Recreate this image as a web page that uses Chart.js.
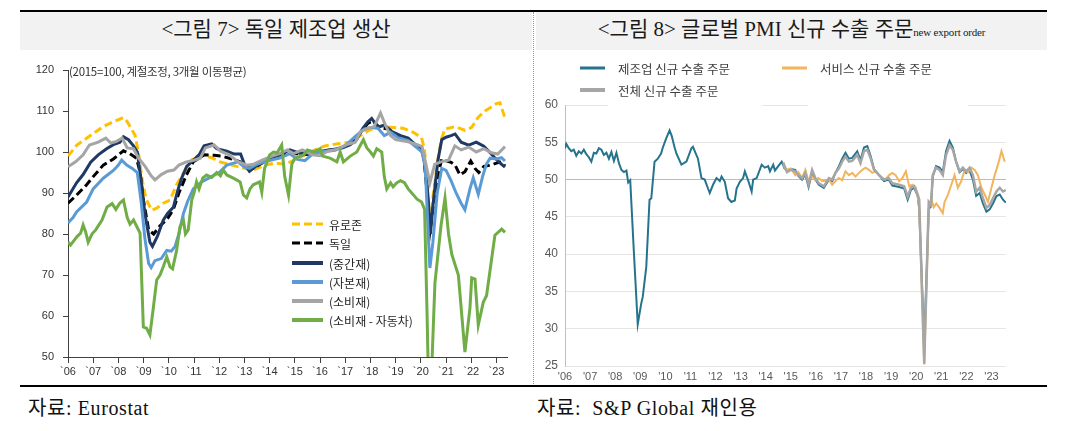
<!DOCTYPE html>
<html>
<head>
<meta charset="utf-8">
<script src="https://cdn.jsdelivr.net/npm/chart.js@4.4.0/dist/chart.umd.min.js"></script>
<style>
  html, body { margin: 0; padding: 0; background: #fff; }
  body { width: 1070px; height: 431px; position: relative; overflow: hidden; }
  .rule { position: absolute; left: 20px; width: 1027px; height: 2px; background: #000; }
  .band { position: absolute; top: 12px; height: 38px; background: #f2f2f2; color: #1a1a1a;
          font-family: "Liberation Serif", "Noto Sans CJK KR", serif; font-size: 21px;
          line-height: 34px; text-align: center; white-space: nowrap; }
  .band small { font-size: 11px; letter-spacing: -0.2px; }
  .foot { position: absolute; top: 392px; font-family: "Liberation Serif", "Noto Sans CJK KR", serif;
          font-size: 20px; color: #111; white-space: nowrap; letter-spacing: 0.6px; }
  .note { position: absolute; left: 69px; top: 63px; font-family: "Noto Sans CJK KR", sans-serif;
          font-size: 11.5px; color: #333; white-space: nowrap; letter-spacing: -0.3px; }
  canvas { position: absolute; top: 0; }
</style>
</head>
<body>
<div class="rule" style="top:10px"></div>
<div class="band" style="left:20px;width:512px">&lt;그림 7&gt; 독일 제조업 생산</div>
<div class="band" style="left:536px;width:511px">&lt;그림 8&gt; 글로벌 PMI 신규 수출 주문<small>new export order</small></div>
<div style="position:absolute;left:533px;top:12px;height:374px;border-left:1px dotted #999"></div>
<div class="rule" style="top:385px"></div>
<div class="foot" style="left:28px">자료: Eurostat</div>
<div class="foot" style="left:537px">자료:&nbsp; S&amp;P Global 재인용</div>

<canvas id="left" width="535" height="431" style="left:0"></canvas>
<canvas id="right" width="535" height="431" style="left:535px"></canvas>
<div class="note">(2015=100, 계절조정, 3개월 이동평균)</div>

<script>
// ---- data: [year, value] ----
const yearTicks = [2006,2007,2008,2009,2010,2011,2012,2013,2014,2015,2016,2017,2018,2019,2020,2021,2022,2023];

// 그림 7
const euroArea = [[2006.0,99],[2006.35,101.7],[2006.75,103.4],[2007.0,104.5],[2007.4,106.2],[2007.8,107.4],[2008.2,108.4],[2008.35,107.4],[2008.66,104.1],[2008.79,100],[2008.95,93],[2009.1,88.5],[2009.32,85.8],[2009.52,86.3],[2009.78,87.5],[2010.05,88.3],[2010.31,92],[2010.6,95],[2010.97,98.5],[2011.3,99.3],[2011.7,98.6],[2012.03,97.6],[2012.5,96.8],[2013.0,96],[2013.35,95.6],[2013.8,96.8],[2014.2,97.3],[2014.6,97],[2014.9,97.8],[2015.3,99],[2015.8,100.5],[2016.2,101.5],[2016.7,102],[2017.2,102.4],[2017.6,104],[2018.0,105.5],[2018.4,106.3],[2018.9,106],[2019.3,105.8],[2019.7,104.8],[2020.03,103.5],[2020.15,100.5],[2020.25,92],[2020.36,81.5],[2020.5,90],[2020.7,99],[2020.83,103.4],[2020.96,105.6],[2021.36,106.2],[2021.75,105.3],[2022.02,106],[2022.28,108.5],[2022.55,110],[2022.8,111],[2023.0,111.8],[2023.14,112],[2023.34,108.3]];
const germany = [[2006.0,87.5],[2006.34,89.5],[2006.74,92],[2007.0,94],[2007.4,96.8],[2007.8,98.3],[2008.06,99.6],[2008.2,100.3],[2008.45,99.6],[2008.72,98.5],[2008.86,95],[2009.0,88],[2009.2,81],[2009.4,80],[2009.65,82],[2009.92,83.5],[2010.18,86],[2010.4,90],[2010.7,94.4],[2010.97,97.6],[2011.4,99.3],[2011.8,99.2],[2012.1,99],[2012.5,98.3],[2012.83,97.6],[2013.1,96.2],[2013.35,96],[2013.7,97.3],[2014.1,98.6],[2014.5,99.5],[2015.0,99.6],[2015.5,99.4],[2016.0,100.2],[2016.6,100.6],[2017.1,101.6],[2017.5,104],[2017.9,107],[2018.1,107.6],[2018.35,106],[2018.7,105.6],[2019.1,104],[2019.5,102.8],[2019.9,101.5],[2020.1,100],[2020.25,90],[2020.36,80.6],[2020.5,87],[2020.7,95],[2020.83,98.2],[2021.2,97.5],[2021.36,96.8],[2021.55,94.4],[2021.75,95.2],[2021.98,97.8],[2022.15,96],[2022.3,95],[2022.5,96.5],[2022.8,96.8],[2023.0,97.3],[2023.2,97.6],[2023.34,96.6]];
const intermediate = [[2006.0,89],[2006.34,92.5],[2006.6,94.5],[2006.9,97.5],[2007.2,99.3],[2007.53,100.8],[2007.8,101.8],[2008.06,102.4],[2008.2,103.7],[2008.4,103],[2008.6,101.5],[2008.75,100],[2008.9,93],[2009.05,85],[2009.25,78],[2009.35,77],[2009.55,79.5],[2009.78,83.4],[2009.95,85],[2010.18,86.5],[2010.35,90.5],[2010.5,93.5],[2010.71,96.5],[2010.9,97.6],[2011.2,99.3],[2011.4,101.5],[2011.7,102],[2011.9,100.8],[2012.3,100.2],[2012.6,99.5],[2012.85,99.5],[2013.0,97],[2013.2,95.3],[2013.45,96.5],[2013.75,97.8],[2014.1,98.5],[2014.45,99.5],[2014.8,100.5],[2015.2,99.7],[2015.6,99.4],[2016.0,100.1],[2016.5,100.6],[2016.9,101],[2017.2,101.8],[2017.45,103],[2017.7,105.8],[2017.9,107.4],[2018.05,108.2],[2018.3,106],[2018.55,106.6],[2018.85,105],[2019.2,104],[2019.5,103.4],[2019.8,101.7],[2020.03,100.5],[2020.18,97],[2020.3,88],[2020.38,80],[2020.5,88],[2020.68,98],[2020.83,103],[2021.0,103.6],[2021.2,104],[2021.36,104.4],[2021.6,102.4],[2021.9,101.7],[2022.2,102.4],[2022.5,101.4],[2022.8,99.5],[2022.95,98.5],[2023.15,97.3],[2023.34,96.3]];
const capital = [[2006.0,82.7],[2006.2,84],[2006.34,85.4],[2006.74,87.8],[2007.0,91],[2007.4,93.6],[2007.8,95.5],[2008.0,96.8],[2008.13,98],[2008.33,96.8],[2008.55,96],[2008.75,95],[2008.9,88],[2009.05,79],[2009.2,72.8],[2009.3,71.8],[2009.45,73.5],[2009.7,74],[2009.92,76],[2010.1,75.8],[2010.25,77],[2010.4,80],[2010.58,85],[2010.75,88],[2010.97,91],[2011.3,92.7],[2011.6,93.7],[2012.0,95],[2012.3,96.8],[2012.75,97.6],[2013.0,96.3],[2013.2,96],[2013.5,97],[2013.9,97.8],[2014.4,98.5],[2014.8,99.6],[2015.1,98.2],[2015.4,97.9],[2015.7,99.5],[2016.0,100],[2016.6,100.4],[2017.0,101.5],[2017.4,103.8],[2017.75,105.6],[2018.05,106],[2018.3,105.8],[2018.55,104],[2018.8,104.8],[2019.1,103.5],[2019.5,102.8],[2019.85,101],[2020.05,100],[2020.18,96],[2020.28,82],[2020.36,71.7],[2020.48,78],[2020.65,90],[2020.83,96],[2021.0,95.5],[2021.2,93],[2021.4,90],[2021.6,87.5],[2021.75,85.9],[2021.95,91],[2022.08,93.7],[2022.28,89.7],[2022.45,94],[2022.6,97],[2022.75,98.5],[2023.0,98.3],[2023.2,98.6],[2023.34,97.8]];
const consumer = [[2006.0,96.4],[2006.3,97.6],[2006.6,99.3],[2006.85,101.7],[2007.2,102.4],[2007.5,103.4],[2007.7,102.2],[2007.93,102.6],[2008.15,103.4],[2008.35,101],[2008.6,100.8],[2008.8,98.5],[2009.06,96.5],[2009.3,94.2],[2009.45,93.2],[2009.7,94.5],[2009.95,95.3],[2010.2,95.6],[2010.4,96.8],[2010.7,97.6],[2011.0,98],[2011.25,98.5],[2011.45,101],[2011.8,101.7],[2012.05,100.2],[2012.4,99.3],[2012.7,97.8],[2013.1,96.8],[2013.35,97],[2013.7,98],[2014.1,99],[2014.4,99.6],[2014.7,100.5],[2014.95,99.6],[2015.3,100.5],[2015.7,99.3],[2016.0,99.1],[2016.3,100.2],[2016.7,100.7],[2017.0,101.7],[2017.4,102.4],[2017.6,104.9],[2017.9,105.8],[2018.15,106.2],[2018.4,109.5],[2018.6,106.5],[2018.8,104],[2019.0,103],[2019.5,102.5],[2019.85,101.8],[2020.05,101.3],[2020.22,96.5],[2020.36,92.5],[2020.55,97],[2020.8,97.6],[2021.1,98],[2021.35,101.5],[2021.6,100.5],[2021.9,101.2],[2022.2,100],[2022.5,100.8],[2022.8,99.8],[2023.05,99.5],[2023.34,101.3]];
const consumerExAuto = [[2006.0,78.1],[2006.1,77.3],[2006.35,79.3],[2006.5,80.2],[2006.6,82.2],[2006.7,80.5],[2006.8,78],[2006.95,80],[2007.1,81],[2007.35,83.4],[2007.55,86.6],[2007.75,87.4],[2007.9,86],[2008.05,87.5],[2008.2,88.3],[2008.35,84],[2008.46,82.4],[2008.6,83.4],[2008.86,80.2],[2008.99,57.3],[2009.12,57],[2009.25,55.4],[2009.39,62.2],[2009.52,68.8],[2009.65,70],[2009.78,72],[2009.92,74.4],[2010.05,72],[2010.15,71.5],[2010.31,76],[2010.44,81.7],[2010.58,83.4],[2010.66,80],[2010.77,81],[2010.91,88.3],[2011.0,90],[2011.1,92.7],[2011.2,91],[2011.35,93.7],[2011.5,94.4],[2011.7,93.8],[2011.9,95],[2012.05,94.2],[2012.16,95.6],[2012.3,94.4],[2012.6,93.5],[2012.83,92.7],[2012.96,89.5],[2013.09,88.8],[2013.22,91],[2013.35,92],[2013.6,92.7],[2013.69,90.2],[2013.8,96],[2014.0,99.3],[2014.15,100],[2014.3,99.8],[2014.48,101.7],[2014.6,94],[2014.75,89.5],[2014.88,97],[2015.0,98.5],[2015.35,99.3],[2015.5,100.5],[2015.75,100],[2016.0,100.8],[2016.1,99],[2016.4,98.5],[2016.67,97.6],[2016.8,100],[2016.93,97.6],[2017.2,99],[2017.46,100],[2017.72,103],[2017.86,101],[2018.0,100],[2018.12,99],[2018.25,100.8],[2018.45,100],[2018.55,94],[2018.65,91],[2018.8,92.5],[2018.9,91.5],[2019.05,92.5],[2019.2,93],[2019.35,92.5],[2019.5,91],[2019.7,89.6],[2019.85,88.5],[2020.03,87.8],[2020.15,86],[2020.25,60],[2020.3,45],[2020.42,45],[2020.56,68],[2020.8,82],[2020.96,88.8],[2021.1,80],[2021.23,75],[2021.49,70],[2021.75,51.2],[2021.95,62],[2022.02,69.3],[2022.15,69],[2022.28,57.8],[2022.48,63.4],[2022.61,65],[2022.94,79.7],[2023.21,81.2],[2023.34,80.4]];

// 그림 8
const manufacturing = [[2006.0,54.2],[2006.05,54.8],[2006.15,54.2],[2006.25,53.8],[2006.35,54.0],[2006.45,53.2],[2006.55,53.8],[2006.65,53.5],[2006.75,54.0],[2006.85,53.4],[2006.95,53.0],[2007.05,52.4],[2007.15,53.6],[2007.25,53.5],[2007.35,54.2],[2007.45,54.0],[2007.55,53.3],[2007.65,53.6],[2007.75,52.8],[2007.85,53.7],[2007.95,52.5],[2008.05,53.6],[2008.15,52.2],[2008.25,51.3],[2008.35,51.0],[2008.45,51.2],[2008.52,49.6],[2008.6,49.9],[2008.75,40],[2008.9,30.6],[2009.04,33.4],[2009.1,34.3],[2009.24,38.3],[2009.37,47.3],[2009.44,47.5],[2009.57,52.4],[2009.7,52.8],[2009.83,53.5],[2009.9,54.3],[2010.03,55.5],[2010.17,56.6],[2010.25,55.9],[2010.37,54.3],[2010.44,53.5],[2010.64,52.0],[2010.84,52.4],[2011.04,54.2],[2011.1,54.4],[2011.3,52.8],[2011.44,50.2],[2011.57,50.0],[2011.7,48.8],[2011.77,48.2],[2011.9,49.3],[2012.04,50.2],[2012.17,49.8],[2012.24,50.4],[2012.37,49.7],[2012.5,47.5],[2012.63,47.0],[2012.77,47.2],[2012.84,48.8],[2012.97,49.7],[2013.1,50.2],[2013.17,51.1],[2013.3,49.9],[2013.44,48.4],[2013.5,50.0],[2013.64,50.2],[2013.84,52.0],[2013.97,51.6],[2014.1,51.8],[2014.17,51.1],[2014.3,52.0],[2014.37,51.2],[2014.5,51.8],[2014.64,52.4],[2014.75,51.5],[2014.85,51.2],[2015.0,51.4],[2015.18,51.3],[2015.3,50.5],[2015.45,50.0],[2015.58,50.7],[2015.71,49.0],[2015.85,51.0],[2015.98,50.0],[2016.12,49.3],[2016.32,48.9],[2016.52,50.0],[2016.65,49.8],[2016.78,50.9],[2016.92,51.8],[2017.05,52.8],[2017.18,53.6],[2017.32,52.8],[2017.45,52.9],[2017.65,53.8],[2017.78,52.6],[2017.92,54.3],[2018.05,54.5],[2018.18,53.2],[2018.32,51.4],[2018.52,50.6],[2018.72,49.8],[2018.9,50.0],[2019.05,49.2],[2019.32,49.0],[2019.52,48.8],[2019.66,47.3],[2019.79,48.6],[2019.92,48.9],[2020.06,47.8],[2020.12,46],[2020.32,28],[2020.5,46],[2020.59,46.5],[2020.66,50.4],[2020.79,51.8],[2020.93,51.6],[2021.06,51.0],[2021.19,53.8],[2021.33,55.2],[2021.46,54.3],[2021.59,52.4],[2021.73,51.0],[2021.86,51.4],[2021.99,50.9],[2022.13,51.2],[2022.26,50.0],[2022.39,47.8],[2022.53,48.2],[2022.66,46.8],[2022.8,45.7],[2022.93,46.0],[2023.06,46.8],[2023.2,47.8],[2023.33,48.0],[2023.46,47.3],[2023.57,46.9]];
const services = [[2014.7,52.0],[2014.8,51.3],[2015.0,51.5],[2015.18,50.6],[2015.3,51.0],[2015.45,50.2],[2015.58,51.3],[2015.71,49.8],[2015.85,50.4],[2015.98,49.9],[2016.1,50.2],[2016.25,49.8],[2016.38,49.8],[2016.52,50.0],[2016.65,49.3],[2016.78,49.8],[2016.92,50.2],[2017.05,49.9],[2017.18,51.1],[2017.32,50.6],[2017.45,50.9],[2017.58,50.4],[2017.72,50.9],[2017.85,51.3],[2017.98,51.6],[2018.12,51.3],[2018.25,50.9],[2018.38,51.1],[2018.52,50.6],[2018.65,50.2],[2018.78,50.0],[2018.92,50.6],[2019.05,50.9],[2019.18,50.6],[2019.32,49.8],[2019.45,50.2],[2019.59,51.1],[2019.65,50.2],[2019.72,49.1],[2019.85,49.3],[2019.99,48.9],[2020.12,46.5],[2020.32,25.2],[2020.5,46],[2020.6,47.5],[2020.7,46.3],[2020.8,46.8],[2020.93,46.2],[2021.06,45.5],[2021.13,47.0],[2021.26,47.9],[2021.4,49.3],[2021.53,50.6],[2021.66,48.9],[2021.8,49.8],[2021.93,51.3],[2022.06,51.0],[2022.2,51.6],[2022.33,51.3],[2022.46,50.6],[2022.6,48.9],[2022.73,48.0],[2022.86,47.0],[2023.0,48.9],[2023.13,50.6],[2023.26,52.0],[2023.4,53.8],[2023.53,52.4]];
const totalOrders = [[2014.7,52.3],[2014.85,51.0],[2015.0,51.3],[2015.18,51.1],[2015.3,50.6],[2015.45,50.2],[2015.58,50.9],[2015.71,49.3],[2015.85,51.3],[2015.98,50.2],[2016.12,49.5],[2016.32,49.1],[2016.52,50.2],[2016.65,50.0],[2016.78,50.9],[2016.92,51.5],[2017.05,52.4],[2017.18,53.1],[2017.32,52.4],[2017.45,52.5],[2017.65,53.3],[2017.78,52.2],[2017.92,53.8],[2018.05,54.0],[2018.18,52.9],[2018.32,51.3],[2018.52,50.6],[2018.72,50.0],[2018.9,50.2],[2019.05,49.5],[2019.32,49.3],[2019.52,49.1],[2019.66,47.7],[2019.79,48.9],[2019.92,49.1],[2020.06,48.0],[2020.12,47.3],[2020.32,25.3],[2020.5,47],[2020.59,46.6],[2020.66,50.6],[2020.79,51.6],[2020.93,51.3],[2021.06,50.6],[2021.19,53.3],[2021.33,54.6],[2021.46,54.0],[2021.59,52.4],[2021.73,51.1],[2021.86,51.6],[2021.99,51.1],[2022.13,51.6],[2022.26,50.6],[2022.39,48.4],[2022.53,48.9],[2022.66,47.5],[2022.8,46.2],[2022.93,46.6],[2023.06,47.5],[2023.2,48.4],[2023.33,48.9],[2023.46,48.4],[2023.57,48.6]];

// legend drawn inside the plot
const insideLegend = {
  id: 'insideLegend',
  afterDraw(chart, args, opts) {
    const ctx = chart.ctx;
    ctx.save();
    (opts.clear || []).forEach(r => {
      ctx.fillStyle = '#fff';
      ctx.fillRect(r[0], r[1], r[2], r[3]);
    });
    opts.items.forEach(it => {
      const ds = chart.data.datasets[it.ds];
      ctx.strokeStyle = ds.borderColor;
      ctx.lineWidth = it.w || ds.borderWidth;
      ctx.setLineDash(ds.borderDash || []);
      ctx.beginPath();
      ctx.moveTo(it.x, it.y);
      ctx.lineTo(it.x + opts.len, it.y);
      ctx.stroke();
      ctx.setLineDash([]);
      ctx.fillStyle = opts.color;
      ctx.font = opts.font;
      ctx.textBaseline = 'middle';
      ctx.fillText(ds.label, it.x + opts.len + opts.gap, it.y + 1);
    });
    ctx.restore();
  }
};

function yearAxis(prefix, min, max, extra) {
  return Object.assign({
    type: 'linear', min: min, max: max,
    afterBuildTicks: axis => { axis.ticks = yearTicks.map(v => ({ value: v })); },
    ticks: { autoSkip: false, maxRotation: 0, callback: v => prefix + String(v).slice(2) }
  }, extra);
}

function line(label, data, color, width, order, dash) {
  return { label: label, data: data, borderColor: color, borderWidth: width, borderDash: dash || [],
           pointRadius: 0, tension: 0, fill: false, order: order };
}

// 그림 7
new Chart(document.getElementById('left'), {
  type: 'line',
  data: {
    datasets: [
      line('유로존', euroArea, '#FFC000', 3, 6, [8, 4]),
      line('독일', germany, '#000000', 3, 5, [8, 4]),
      line('(중간재)', intermediate, '#1F3864', 3, 4),
      line('(자본재)', capital, '#5B9BD5', 3, 3),
      line('(소비재)', consumer, '#A5A5A5', 3, 2),
      line('(소비재 - 자동차)', consumerExAuto, '#70AD47', 3, 1)
    ]
  },
  options: {
    responsive: false, animation: false, events: [],
    layout: { padding: { left: 0, top: 70, right: 28, bottom: 0 } },
    plugins: {
      legend: { display: false }, tooltip: { enabled: false },
      insideLegend: {
        len: 31, gap: 6, color: '#262626', font: '12px "Noto Sans CJK KR", sans-serif',
        items: [
          { ds: 0, x: 292, y: 224 }, { ds: 1, x: 292, y: 243 }, { ds: 2, x: 292, y: 263, w: 4 },
          { ds: 3, x: 292, y: 282, w: 4 }, { ds: 4, x: 292, y: 301, w: 4 }, { ds: 5, x: 292, y: 320, w: 4 }
        ]
      }
    },
    scales: {
      x: yearAxis('`', 2006, 2023.42, {
        afterFit: s => { s.height = 74; },
        grid: { drawOnChartArea: false, tickLength: 6, color: '#404040' },
        border: { color: '#404040' },
        ticks: { autoSkip: false, maxRotation: 0, padding: 2, color: '#333',
                 font: { family: 'Liberation Sans', size: 11 },
                 callback: v => '`' + String(v).slice(2) }
      }),
      y: {
        min: 50, max: 120,
        afterFit: s => { s.width = 68; },
        grid: { drawOnChartArea: false, tickLength: 5, color: '#404040' },
        border: { color: '#404040' },
        ticks: { stepSize: 10, padding: 9, color: '#333', font: { family: 'Liberation Sans', size: 11 } }
      }
    }
  },
  plugins: [insideLegend]
});

// 그림 8
new Chart(document.getElementById('right'), {
  type: 'line',
  data: {
    datasets: [
      line('제조업 신규 수출 주문', manufacturing, '#26738D', 2, 3),
      line('서비스 신규 수출 주문', services, '#F2B45C', 2, 2),
      line('전체 신규 수출 주문', totalOrders, '#A6A6A6', 2.5, 1)
    ]
  },
  options: {
    responsive: false, animation: false, events: [],
    layout: { padding: { left: 0, top: 105, right: 64, bottom: 0 } },
    plugins: {
      legend: { display: false }, tooltip: { enabled: false },
      insideLegend: {
        len: 25, gap: 13, color: '#404040', font: '12.5px "Noto Sans CJK KR", sans-serif',
        clear: [[73, 100, 154, 10], [273, 100, 160, 10]],
        items: [
          { ds: 0, x: 45, y: 68, w: 3 }, { ds: 1, x: 247, y: 68, w: 3 }, { ds: 2, x: 45, y: 90, w: 4 }
        ]
      }
    },
    scales: {
      x: yearAxis("'", 2006, 2023.58, {
        afterFit: s => { s.height = 65; },
        grid: { display: false, drawTicks: false },
        border: { display: false },
        ticks: { autoSkip: false, maxRotation: 0, padding: 4, color: '#595959',
                 font: { family: 'Liberation Sans', size: 11 },
                 callback: v => "'" + String(v).slice(2) }
      }),
      y: {
        min: 25, max: 60,
        afterFit: s => { s.width = 30; },
        grid: { drawTicks: false, color: c => c.tick && c.tick.value === 50 ? '#bcbcbc' : '#e6e6e6' },
        border: { color: '#bfbfbf' },
        ticks: { stepSize: 5, padding: 7, color: '#595959', font: { family: 'Liberation Sans', size: 12 } }
      }
    }
  },
  plugins: [insideLegend]
});
</script>
</body>
</html>
